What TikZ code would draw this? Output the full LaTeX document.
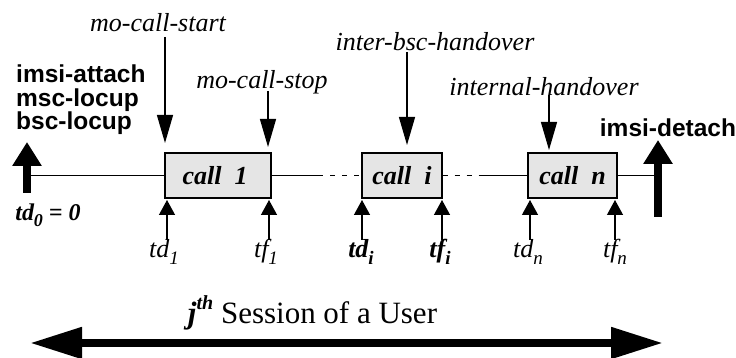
\documentclass[tikz,border=0pt]{standalone}
\usepackage{fontspec}
\setmainfont{Liberation Serif}
\setsansfont{Liberation Sans}
\usetikzlibrary{arrows.meta}
\newcommand{\lsub}[2][19]{\raisebox{-0.28em}{\fontsize{#1}{#1}\selectfont #2}}
\newcommand{\lsup}[2][20]{\raisebox{0.42em}{\fontsize{#1}{#1}\selectfont #2}}
\begin{document}
\begin{tikzpicture}[x=1pt,y=-1pt,
  callbox/.style={draw=black,line width=1.4pt,fill=black!10,minimum height=45pt,inner sep=0pt,
     font=\fontsize{26}{28}\selectfont\bfseries\itshape},
  thin/.style={line width=1.3pt},
  downarr/.style={line width=1.3pt,-{Triangle[length=28pt,width=16pt]}},
  uparr/.style={line width=1.3pt,-{Triangle[length=15pt,width=16pt]}},
  bigup/.style={line width=8pt,-{Triangle[length=24pt,width=28pt]}},
  evlabel/.style={font=\fontsize{26}{28}\selectfont\itshape,inner sep=0pt},
  sanslabel/.style={font=\fontsize{24.5}{25}\selectfont\sffamily\bfseries,inner sep=0pt},
  tlabel/.style={font=\fontsize{26}{28}\selectfont\itshape,inner sep=0pt,anchor=base},
  tblabel/.style={font=\fontsize{26}{28}\selectfont\bfseries\itshape,inner sep=0pt,anchor=base}]
\useasboundingbox (0,0) rectangle (736,358);

% boxes
\node[callbox,minimum width=106pt] (b1) at (218,175.5) {\hspace*{-6pt}call\ \ 1};
\node[callbox,minimum width=80pt] (bi) at (402,175.5) {call\ \ i};
\node[callbox,minimum width=89pt] (bn) at (572.5,175.5) {call\ \ n};

% timeline
\coordinate (tl0) at (27,175.5);
\coordinate (d1a) at (318,175.5);
\coordinate (d2b) at (480,175.5);
\coordinate (tlend) at (658,175.5);
\draw[thin] (tl0) -- (b1.west);
\draw[thin] (b1.east) -- (d1a);
\draw[thin,dash pattern=on 5pt off 7pt] (d1a) -- (bi.west);
\draw[thin,dash pattern=on 5pt off 7pt] (bi.east) -- (d2b);
\draw[thin] (d2b) -- (bn.west);
\draw[thin] (bn.east) -- (tlend);

% big up arrows
\coordinate (lb) at (27,193);
\coordinate (lt) at (27,142);
\draw[bigup] (lb) -- (lt);
\coordinate (rb) at (658,217);
\coordinate (rt) at (658,140);
\draw[bigup] (rb) -- (rt);

% left labels
\node[sanslabel,anchor=base west] (la1) at (16,83) {imsi-attach};
\node[sanslabel,anchor=base west] (la2) at (16,107) {msc-locup};
\node[sanslabel,anchor=base west] (la3) at (16,130) {bsc-locup};
\node[sanslabel] (ld) at (668,128) {imsi-detach};
\node[font=\fontsize{24}{26}\selectfont\bfseries\itshape,inner sep=0pt,anchor=base] (td0) at (48,220) {td\lsub[18]{0} = 0};

% event labels and down arrows
\node[evlabel] (ms) at (158,23) {mo-call-start};
\node[evlabel] (mp) at (262,82) {mo-call-stop};
\node[evlabel] (ib) at (435,42) {inter-bsc-handover};
\node[evlabel] (ih) at (544,87) {internal-handover};
\coordinate (ms0) at (165,37);  \coordinate (ms1) at (165,143);
\coordinate (mp0) at (268,91);  \coordinate (mp1) at (268,147);
\coordinate (ib0) at (407,52);  \coordinate (ib1) at (407,145);
\coordinate (ih0) at (549,95);  \coordinate (ih1) at (549,150);
\draw[downarr] (ms0) -- (ms1);
\draw[downarr] (mp0) -- (mp1);
\draw[downarr] (ib0) -- (ib1);
\draw[downarr] (ih0) -- (ih1);

% up small arrows
\foreach \n/\x in {u1/167,u2/269,u3/362,u4/442,u5/530,u6/615}{
  \coordinate (\n a) at (\x,240);
  \coordinate (\n b) at (\x,200);
  \draw[uparr] (\n a) -- (\n b);
}

% time labels
\node[tlabel] (ltd1) at (164,257) {td\lsub{1}};
\node[tlabel] (ltf1) at (266,257) {tf\lsub{1}};
\node[tblabel] (ltdi) at (361,257) {td\lsub{i}};
\node[tblabel] (ltfi) at (440,257) {tf\lsub{i}};
\node[tlabel] (ltdn) at (528,257) {td\lsub{n}};
\node[tlabel] (ltfn) at (615,257) {tf\lsub{n}};

% session
\node[font=\fontsize{31}{33}\selectfont,inner sep=0pt,anchor=base] (sess) at (312.5,323)
  {\textbf{\textit{j}}\lsup{\textbf{\textit{th}}} Session of a User};
\coordinate (sL) at (30,343);
\coordinate (sR) at (663,343);
\draw[line width=8pt,{Triangle[length=52pt,width=30pt]}-{Triangle[length=52pt,width=30pt]}] (sL) -- (sR);
\end{tikzpicture}
\end{document}
